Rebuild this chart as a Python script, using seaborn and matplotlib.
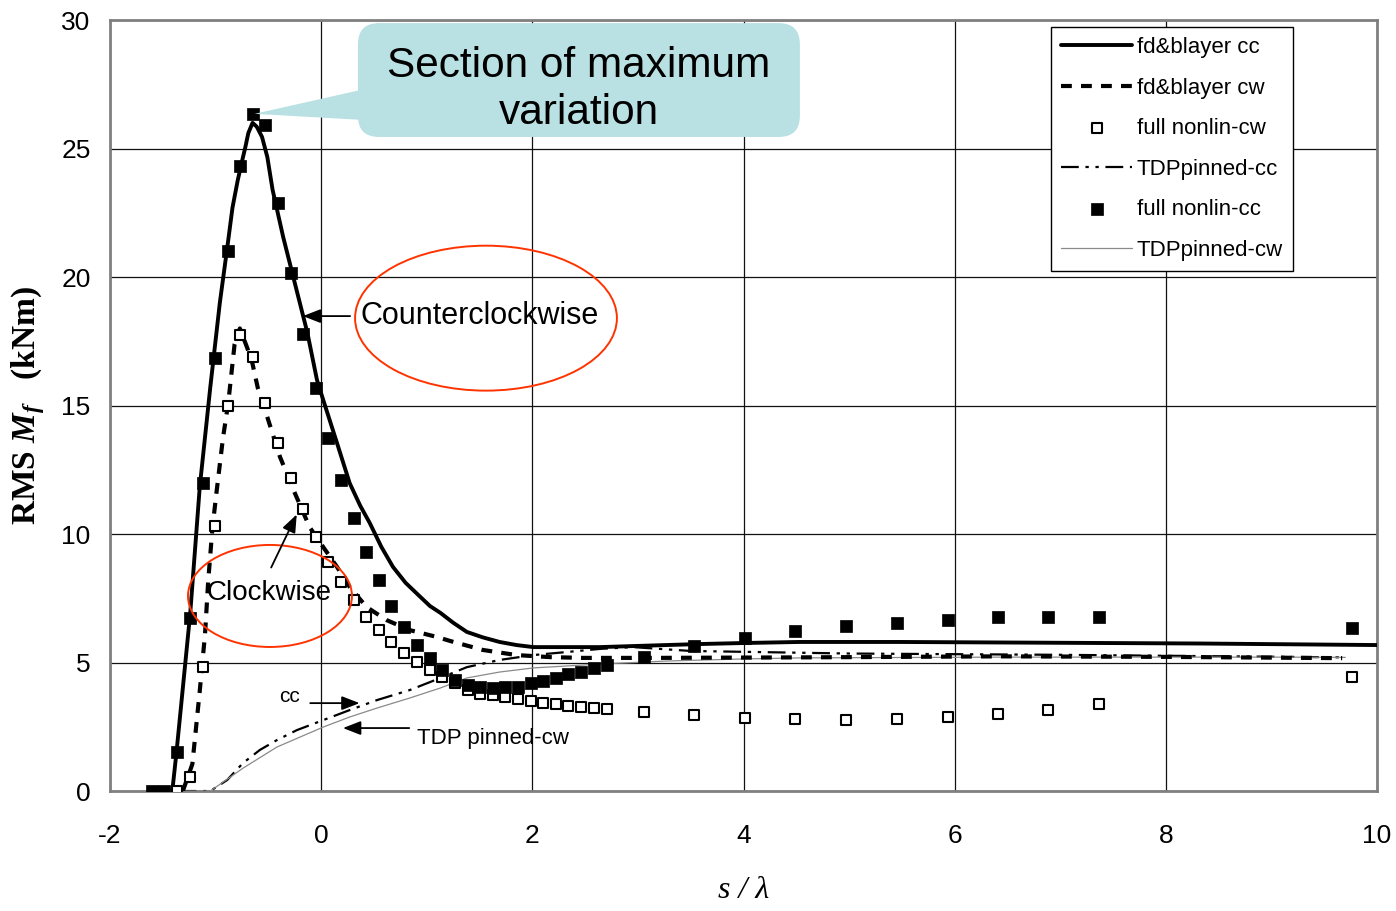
import numpy as np
import pandas as pd
import matplotlib
matplotlib.use("Agg")
import matplotlib.pyplot as plt
from matplotlib.patches import Ellipse, FancyBboxPatch, Polygon
import seaborn as sns

# ---- data -------------------------------------------------------------
# fd&blayer, counterclockwise
s_fd_cc = [-1.41, -1.37, -1.24, -1.15, -1.05, -0.96, -0.88, -0.84, -0.79, -0.75,
           -0.72, -0.69, -0.65, -0.61, -0.56, -0.51, -0.46, -0.36, -0.25, -0.13,
           -0.04, 0.02, 0.15, 0.27, 0.37, 0.46, 0.57, 0.68, 0.80, 0.94,
           1.03, 1.13, 1.25, 1.38, 1.53, 1.69, 1.85, 2.01, 2.33, 2.64,
           2.95, 3.59, 4.01, 4.53, 5.48, 6.43, 7.38, 8.32, 10.0]
m_fd_cc = [0.0, 1.52, 6.93, 11.83, 15.72, 18.99, 21.44, 22.70, 23.77, 24.50,
           25.02, 25.60, 26.00, 25.85, 25.45, 24.67, 23.39, 21.56, 19.77, 17.82,
           16.00, 15.21, 13.54, 11.98, 11.10, 10.43, 9.50, 8.72, 8.10, 7.55,
           7.20, 6.93, 6.55, 6.19, 5.98, 5.80, 5.68, 5.60, 5.60, 5.60,
           5.64, 5.72, 5.76, 5.80, 5.80, 5.78, 5.76, 5.74, 5.68]

# fd&blayer, clockwise
s_fd_cw = [-1.31, -1.22, -1.15, -1.10, -1.07, -1.03, -0.99, -0.93, -0.88, -0.82,
           -0.77, -0.70, -0.65, -0.60, -0.51, -0.39, -0.25, -0.11, 0.02, 0.15,
           0.27, 0.43, 0.62, 0.84, 1.10, 1.22, 1.53, 1.85, 2.17, 2.48,
           3.11, 4.53, 6.43, 8.00, 9.67]
m_fd_cw = [0.0, 1.05, 3.89, 6.11, 8.17, 10.23, 11.67, 13.74, 15.10, 17.39,
           18.00, 17.24, 16.62, 15.68, 14.55, 13.00, 11.60, 10.27, 9.49, 8.72,
           7.94, 7.16, 6.65, 6.26, 5.99, 5.84, 5.49, 5.29, 5.21, 5.18,
           5.18, 5.20, 5.24, 5.22, 5.17]

# full nonlinear, clockwise
s_nl_cw = [-1.37, -1.24, -1.12, -1.01, -0.88, -0.77, -0.65, -0.53, -0.41, -0.29,
           -0.17, -0.05, 0.06, 0.19, 0.31, 0.42, 0.55, 0.66, 0.78, 0.91,
           1.03, 1.14, 1.27, 1.39, 1.50, 1.63, 1.74, 1.86, 1.99, 2.10,
           2.22, 2.34, 2.46, 2.58, 2.71, 3.06, 3.53, 4.01, 4.49, 4.97,
           5.45, 5.94, 6.41, 6.88, 7.37, 9.76]
m_nl_cw = [0.0, 0.54, 4.82, 10.31, 14.98, 17.74, 16.89, 15.10, 13.54, 12.18,
           10.97, 9.88, 8.91, 8.13, 7.43, 6.77, 6.26, 5.80, 5.37, 5.02,
           4.71, 4.44, 4.20, 3.93, 3.77, 3.74, 3.66, 3.58, 3.50, 3.42,
           3.39, 3.31, 3.27, 3.23, 3.19, 3.07, 2.96, 2.84, 2.80, 2.76,
           2.80, 2.88, 3.00, 3.15, 3.39, 4.44]

# TDP pinned, counterclockwise
s_tdp_cc = [-1.35, -1.05, -0.89, -0.74, -0.58, -0.42, -0.23, 0.02, 0.27, 0.53,
            0.84, 1.13, 1.38, 1.69, 2.01, 2.33, 2.64, 2.95, 3.50, 5.00,
            7.00, 9.70]
m_tdp_cc = [0.0, 0.0, 0.43, 1.09, 1.60, 1.98, 2.37, 2.76, 3.15, 3.54,
            3.93, 4.40, 4.82, 5.10, 5.29, 5.41, 5.53, 5.60, 5.45, 5.35,
            5.30, 5.20]

# full nonlinear, counterclockwise
s_nl_cc = [-1.60, -1.49] + s_nl_cw
m_nl_cc = [0.0, 0.0, 1.52, 6.73, 11.98, 16.85, 21.01, 24.32, 26.34, 25.91,
           22.88, 20.16, 17.78, 15.68, 13.74, 12.10, 10.62, 9.30, 8.21, 7.20,
           6.38, 5.68, 5.18, 4.71, 4.32, 4.12, 4.05, 4.01, 4.05, 4.05,
           4.20, 4.28, 4.40, 4.55, 4.63, 4.79, 4.90, 5.21, 5.64, 5.95,
           6.23, 6.42, 6.54, 6.65, 6.77, 6.77, 6.77, 6.34]

# TDP pinned, clockwise
s_tdp_cw = [-1.35, -1.05, -0.74, -0.42, 0.02, 0.27, 0.53, 0.84, 1.13, 1.38,
            1.69, 2.01, 2.64, 3.28, 4.01, 4.53, 6.43, 9.04, 9.70]
m_tdp_cw = [0.0, 0.0, 0.89, 1.71, 2.49, 2.88, 3.23, 3.62, 4.01, 4.40,
            4.63, 4.79, 4.94, 5.06, 5.14, 5.18, 5.21, 5.21, 5.20]

x_ticks = [-2, 0, 2, 4, 6, 8, 10]
y_ticks = [0, 5, 10, 15, 20, 25, 30]

# ---- style ------------------------------------------------------------
sns.set_theme(style="white")
sans = ["Liberation Sans", "DejaVu Sans"]
serif = ["Liberation Serif", "DejaVu Serif"]
plt.rcParams["font.family"] = sans
plt.rcParams["text.color"] = "black"
plt.rcParams["axes.labelcolor"] = "black"
plt.rcParams["xtick.color"] = "black"
plt.rcParams["ytick.color"] = "black"
plt.rcParams["mathtext.fontset"] = "custom"
plt.rcParams["mathtext.rm"] = "Liberation Serif:bold"
plt.rcParams["mathtext.it"] = "Liberation Serif:italic:bold"
plt.rcParams["mathtext.bf"] = "Liberation Serif:bold"

fig = plt.figure(figsize=(13.96, 9.11), dpi=100)
ax = fig.add_axes([0.0788, 0.1317, 0.9076, 0.8463])

# ---- series -----------------------------------------------------------
sns.lineplot(x=s_fd_cc, y=m_fd_cc, ax=ax, color="black", lw=2.8,
             sort=False, estimator=None, label="fd&blayer cc", zorder=4)
sns.lineplot(x=s_fd_cw, y=m_fd_cw, ax=ax, color="black", lw=3.0,
             sort=False, estimator=None, label="fd&blayer cw", zorder=4)
ax.lines[-1].set_dashes([2.6, 2.2])
sns.scatterplot(x=s_nl_cw, y=m_nl_cw, ax=ax, marker="s", s=62,
                facecolor="white", edgecolor="black", linewidth=1.5,
                label="full nonlin-cw", zorder=5)
sns.lineplot(x=s_tdp_cc, y=m_tdp_cc, ax=ax, color="black", lw=1.6,
             sort=False, estimator=None, label="TDPpinned-cc", zorder=3)
ax.lines[-1].set_dashes([8, 3, 1.5, 3, 1.5, 3])
sns.scatterplot(x=s_nl_cc, y=m_nl_cc, ax=ax, marker="s", s=80,
                color="black", edgecolor="black", linewidth=0.5,
                label="full nonlin-cc", zorder=6)
sns.lineplot(x=s_tdp_cw, y=m_tdp_cw, ax=ax, color="#8a8a8a", lw=0.9,
             sort=False, estimator=None, label="TDPpinned-cw", zorder=3)

# ---- axes -------------------------------------------------------------
ax.set_xlim(-2, 10)
ax.set_ylim(0, 30)
ax.set_xticks(x_ticks)
ax.set_yticks(y_ticks)
ax.set_xticklabels([str(v) for v in x_ticks])
ax.set_yticklabels([str(v) for v in y_ticks])
ax.tick_params(axis="x", direction="out", length=7, width=1.2, color="#555555",
               labelsize=19, pad=17)
ax.tick_params(axis="y", length=0, labelsize=19, pad=14)
ax.grid(True, color="#111111", lw=0.9)
ax.set_axisbelow(True)
for side in ["left", "top", "right", "bottom"]:
    ax.spines[side].set_visible(True)
    ax.spines[side].set_color("#808080")
    ax.spines[side].set_linewidth(2.0)

ax.set_ylabel(r"RMS $M_f$   (kNm)", fontsize=24, fontweight="bold",
              family=serif, labelpad=10)
ax.set_xlabel("s / λ", fontsize=23, fontstyle="italic", family=serif,
              labelpad=20)

# ---- legend -----------------------------------------------------------
handles, labels = ax.get_legend_handles_labels()
leg = ax.legend(handles, labels, loc="upper right",
                bbox_to_anchor=(0.9337, 0.991), fontsize=16,
                frameon=True, fancybox=False, edgecolor="black",
                framealpha=1, handlelength=3.2, labelspacing=0.88,
                handletextpad=0.2, borderpad=0.45, borderaxespad=0)
leg.get_frame().set_linewidth(1.0)

# ---- annotations ------------------------------------------------------
red = "#ff3300"
arrow = dict(arrowstyle="-|>,head_length=0.9,head_width=0.35",
             color="black", lw=1.3)
ax.add_patch(Ellipse((1.561, 18.40), 2.48, 5.64, fill=False, ec=red, lw=1.4,
                     zorder=7))
ax.text(1.504, 18.48, "Counterclockwise", fontsize=22, ha="center",
        va="center", zorder=8)
ax.annotate("", xy=(-0.20, 18.48), xytext=(0.30, 18.48),
            arrowprops=arrow, zorder=8)

ax.add_patch(Ellipse((-0.485, 7.59), 1.553, 3.97, fill=False, ec=red, lw=1.4,
                     zorder=7))
ax.text(-0.49, 7.70, "Clockwise", fontsize=20, ha="center", va="center",
        zorder=8)
ax.annotate("", xy=(-0.22, 10.86), xytext=(-0.485, 8.60),
            arrowprops=arrow, zorder=8)

ax.text(-0.30, 3.66, "cc", fontsize=15, ha="center", va="center", zorder=8)
ax.annotate("", xy=(0.39, 3.42), xytext=(-0.13, 3.42),
            arrowprops=arrow, zorder=8)

ax.text(0.91, 2.06, "TDP pinned-cw", fontsize=16, ha="left", va="center",
        zorder=8)
ax.annotate("", xy=(0.18, 2.45), xytext=(0.86, 2.45),
            arrowprops=arrow, zorder=8)

# callout box
callout = "#b9e0e3"
ax.add_patch(Polygon([(-0.63, 26.35), (0.45, 27.35), (0.45, 26.10)],
                     closed=True, fc=callout, ec="none", zorder=8))
ax.add_patch(FancyBboxPatch((0.348, 25.45), 4.186, 4.43,
                            boxstyle="round,pad=0,rounding_size=0.2",
                            mutation_aspect=105.6 / 25.7,
                            fc=callout, ec="none", zorder=8))
ax.text(2.44, 27.30, "Section of maximum\nvariation", fontsize=30.5,
        ha="center", va="center", linespacing=1.22, zorder=9)

fig.savefig("out.png", dpi=100)
